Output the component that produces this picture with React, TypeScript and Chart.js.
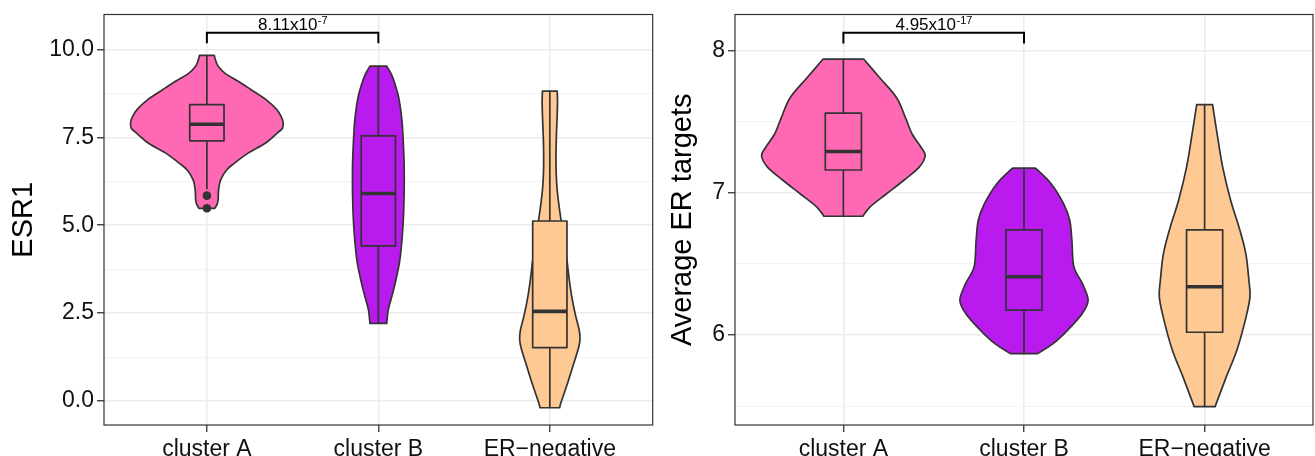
import React, { useEffect, useRef } from 'react';
import { Chart, registerables } from 'chart.js';

Chart.register(...registerables);

// ---------- shared ----------
const categories = ['cluster A', 'cluster B', 'ER\u2212negative'];
const categoryPositions = [1, 2, 3];
const fillColors = ['#FF69B4', '#B91AEE', '#FFC994'];

// ---------- panel 1: ESR1 ----------
const esr1Title = 'ESR1';
const esr1YRange = [-0.68, 10.99];
const esr1YTicks = [0, 2.5, 5, 7.5, 10];
const esr1YTickLabels = ['0.0', '2.5', '5.0', '7.5', '10.0'];
const esr1YMinorTicks = [1.25, 3.75, 6.25, 8.75];

// violin outlines: y values (top to bottom) and half-widths (category units)
const esr1ViolinA_y = [9.83, 9.7, 9.52, 9.3, 9.1, 8.86, 8.57, 8.3, 8.1, 7.92, 7.75, 7.62, 7.33, 7.05, 6.76, 6.57, 6.29, 6.0, 5.75, 5.6, 5.48];
const esr1ViolinA_w = [0.043, 0.05, 0.066, 0.11, 0.18, 0.256, 0.345, 0.405, 0.432, 0.445, 0.44, 0.41, 0.34, 0.24, 0.16, 0.115, 0.08, 0.068, 0.066, 0.06, 0.046];
const esr1ViolinB_y = [9.52, 9.3, 9.0, 8.6, 8.0, 7.4, 6.8, 6.3, 5.8, 5.2, 4.6, 4.0, 3.5, 3.0, 2.6, 2.21];
const esr1ViolinB_w = [0.049, 0.075, 0.098, 0.12, 0.137, 0.145, 0.15, 0.151, 0.15, 0.146, 0.138, 0.125, 0.105, 0.08, 0.058, 0.049];
const esr1ViolinC_y = [8.81, 8.5, 8.0, 7.5, 7.0, 6.5, 6.0, 5.5, 5.0, 4.5, 4.0, 3.5, 3.0, 2.5, 2.0, 1.75, 1.5, 1.0, 0.5, 0.0, -0.19];
const esr1ViolinC_w = [0.043, 0.045, 0.042, 0.038, 0.036, 0.037, 0.043, 0.055, 0.07, 0.085, 0.1, 0.112, 0.127, 0.147, 0.172, 0.176, 0.167, 0.135, 0.103, 0.068, 0.057];

// boxes: [lower whisker, q1, median, q3, upper whisker]
const esr1BoxA = [6.02, 7.4, 7.87, 8.43, 9.83];
const esr1BoxB = [2.21, 4.41, 5.9, 7.54, 9.52];
const esr1BoxC = [-0.19, 1.52, 2.55, 5.12, 8.81];
const esr1OutliersA = [5.84, 5.48];

// significance bracket: [x1, x2, y, tipY]
const esr1Bracket = [1, 2, 10.47, 10.17];
const esr1PValue = ['8.11x10', '-7'];

// ---------- panel 2: Average ER targets ----------
const erTitle = 'Average ER targets';
const erYRange = [5.368, 8.253];
const erYTicks = [6, 7, 8];
const erYTickLabels = ['6', '7', '8'];
const erYMinorTicks = [5.5, 6.5, 7.5];

const erViolinA_y = [7.94, 7.81, 7.67, 7.53, 7.415, 7.32, 7.26, 7.18, 7.09, 6.99, 6.9, 6.835];
const erViolinA_w = [0.112, 0.2, 0.294, 0.343, 0.38, 0.43, 0.453, 0.42, 0.337, 0.236, 0.147, 0.108];
const erViolinB_y = [7.174, 7.064, 6.924, 6.807, 6.667, 6.48, 6.363, 6.246, 6.152, 6.035, 5.94, 5.87];
const erViolinB_w = [0.063, 0.15, 0.219, 0.253, 0.265, 0.276, 0.323, 0.355, 0.323, 0.242, 0.161, 0.075];
const erViolinC_y = [7.62, 7.415, 7.18, 6.947, 6.76, 6.573, 6.386, 6.27, 6.13, 5.895, 5.71, 5.497];
const erViolinC_w = [0.044, 0.069, 0.1, 0.144, 0.19, 0.228, 0.245, 0.251, 0.23, 0.179, 0.121, 0.058];

const erBoxA = [6.835, 7.16, 7.29, 7.56, 7.94];
const erBoxB = [5.87, 6.175, 6.41, 6.74, 7.174];
const erBoxC = [5.497, 6.02, 6.34, 6.74, 7.62];
const erOutliersA: number[] = [];

const erBracket = [1, 2, 8.124, 8.05];
const erPValue = ['4.95x10', '-17'];

// ---------- drawing helpers ----------
type Pt = { x: number; y: number };

function curveThrough(ctx: CanvasRenderingContext2D, pts: Pt[]) {
  for (let i = 0; i < pts.length - 1; i++) {
    const p0 = pts[i - 1] || pts[i];
    const p1 = pts[i];
    const p2 = pts[i + 1];
    const p3 = pts[i + 2] || pts[i + 1];
    ctx.bezierCurveTo(
      p1.x + (p2.x - p0.x) / 6, p1.y + (p2.y - p0.y) / 6,
      p2.x - (p3.x - p1.x) / 6, p2.y - (p3.y - p1.y) / 6,
      p2.x, p2.y
    );
  }
}

function makePanelPlugin(panel: any) {
  return {
    id: 'violinPanel',
    beforeDatasetsDraw(chart: any) {
      const ctx: CanvasRenderingContext2D = chart.ctx;
      const xs = chart.scales.x;
      const ys = chart.scales.y;
      ctx.save();
      panel.violins.forEach((v: any, i: number) => {
        const cx = categoryPositions[i];
        const right: Pt[] = v.y.map((y: number, k: number) => ({ x: xs.getPixelForValue(cx + v.w[k]), y: ys.getPixelForValue(y) }));
        const left: Pt[] = v.y.map((y: number, k: number) => ({ x: xs.getPixelForValue(cx - v.w[k]), y: ys.getPixelForValue(y) })).reverse();
        ctx.beginPath();
        ctx.moveTo(right[0].x, right[0].y);
        curveThrough(ctx, right);
        ctx.lineTo(left[0].x, left[0].y);
        curveThrough(ctx, left);
        ctx.closePath();
        ctx.fillStyle = fillColors[i];
        ctx.fill();
        ctx.lineWidth = 1.7;
        ctx.strokeStyle = '#333333';
        ctx.lineJoin = 'round';
        ctx.stroke();

        // box plot
        const b = panel.boxes[i];
        const xc = xs.getPixelForValue(cx);
        const xl = xs.getPixelForValue(cx - 0.1);
        const xr = xs.getPixelForValue(cx + 0.1);
        const yLow = ys.getPixelForValue(b[0]);
        const yQ1 = ys.getPixelForValue(b[1]);
        const yMed = ys.getPixelForValue(b[2]);
        const yQ3 = ys.getPixelForValue(b[3]);
        const yHigh = ys.getPixelForValue(b[4]);
        ctx.lineWidth = 1.7;
        ctx.beginPath();
        ctx.moveTo(xc, yQ3); ctx.lineTo(xc, yHigh);
        ctx.moveTo(xc, yQ1); ctx.lineTo(xc, yLow);
        ctx.stroke();
        ctx.fillStyle = fillColors[i];
        ctx.fillRect(xl, yQ3, xr - xl, yQ1 - yQ3);
        ctx.strokeRect(xl, yQ3, xr - xl, yQ1 - yQ3);
        ctx.lineWidth = 3.6;
        ctx.lineCap = 'butt';
        ctx.beginPath();
        ctx.moveTo(xl, yMed); ctx.lineTo(xr, yMed);
        ctx.stroke();
      });

      // significance bracket
      const br = panel.bracket;
      const bx1 = xs.getPixelForValue(br[0]);
      const bx2 = xs.getPixelForValue(br[1]);
      const by = ys.getPixelForValue(br[2]);
      const bt = ys.getPixelForValue(br[3]);
      ctx.strokeStyle = '#000';
      ctx.lineWidth = 2;
      ctx.lineJoin = 'miter';
      ctx.beginPath();
      ctx.moveTo(bx1, bt); ctx.lineTo(bx1, by); ctx.lineTo(bx2, by); ctx.lineTo(bx2, bt);
      ctx.stroke();
      const mainFont = '17px "Liberation Sans", Arial, sans-serif';
      const supFont = '11px "Liberation Sans", Arial, sans-serif';
      ctx.font = mainFont;
      const w1 = ctx.measureText(panel.pValue[0]).width;
      ctx.font = supFont;
      const w2 = ctx.measureText(panel.pValue[1]).width;
      const startX = (bx1 + bx2) / 2 - (w1 + w2) / 2;
      ctx.fillStyle = '#000';
      ctx.textBaseline = 'alphabetic';
      ctx.textAlign = 'left';
      ctx.font = mainFont;
      ctx.fillText(panel.pValue[0], startX, by - 2.5);
      ctx.font = supFont;
      ctx.fillText(panel.pValue[1], startX + w1 + 0.5, by - 8.5);
      ctx.restore();
    },
    afterDraw(chart: any) {
      const ctx: CanvasRenderingContext2D = chart.ctx;
      const a = chart.chartArea;
      ctx.save();
      ctx.strokeStyle = '#333333';
      ctx.lineWidth = 1.2;
      ctx.strokeRect(a.left, a.top, a.right - a.left, a.bottom - a.top);
      ctx.restore();
    },
  };
}

function buildConfig(panel: any) {
  const allYTicks = [...panel.yTicks, ...panel.yMinor].sort((a: number, b: number) => a - b);
  const isMajorY = (v: number) => panel.yTicks.some((t: number) => Math.abs(t - v) < 1e-9);
  return {
    type: 'scatter' as const,
    data: {
      datasets: [
        {
          data: panel.outliers.map((y: number) => ({ x: 1, y })),
          pointRadius: 4.3,
          pointBackgroundColor: '#333333',
          pointBorderWidth: 0,
          showLine: false,
        },
      ],
    },
    options: {
      responsive: false,
      animation: false,
      devicePixelRatio: 1,
      layout: { padding: { top: 14, right: panel.padRight, left: 0, bottom: 0 } },
      plugins: { legend: { display: false }, tooltip: { enabled: false } },
      scales: {
        x: {
          type: 'linear',
          min: 0.4,
          max: 3.6,
          afterBuildTicks: (s: any) => { s.ticks = categoryPositions.map((v) => ({ value: v })); },
          afterFit: (s: any) => { s.height = 31; },
          ticks: {
            autoSkip: false,
            maxRotation: 0,
            padding: 3.5,
            color: '#111',
            font: { size: 23 },
            callback: (v: number) => categories[Math.round(v) - 1],
          },
          grid: { color: '#EBEBEB', lineWidth: 1.5, tickColor: '#333333', tickLength: 7, tickWidth: 1.3 },
          border: { display: false },
        },
        y: {
          type: 'linear',
          min: panel.yRange[0],
          max: panel.yRange[1],
          afterBuildTicks: (s: any) => { s.ticks = allYTicks.map((v: number) => ({ value: v })); },
          afterFit: (s: any) => { s.width = panel.yWidth; },
          ticks: {
            autoSkip: false,
            padding: 3,
            color: '#111',
            font: { size: 23, lineHeight: 1 },
            callback: (v: number) => {
              const idx = panel.yTicks.findIndex((t: number) => Math.abs(t - v) < 1e-9);
              return idx >= 0 ? panel.yTickLabels[idx] : '';
            },
          },
          grid: {
            color: (c: any) => (isMajorY(c.tick.value) ? '#EBEBEB' : '#F3F3F3'),
            lineWidth: (c: any) => (isMajorY(c.tick.value) ? 1.5 : 1.1),
            tickColor: (c: any) => (isMajorY(c.tick.value) ? '#333333' : 'rgba(0,0,0,0)'),
            tickLength: 7,
            tickWidth: 1.3,
          },
          border: { display: false },
          title: {
            display: true,
            text: panel.title,
            color: '#000',
            font: { size: 29 },
            padding: { top: panel.titlePad, bottom: 0 },
          },
        },
      },
    },
    plugins: [makePanelPlugin(panel)],
  };
}

const esr1Panel = {
  title: esr1Title,
  yRange: esr1YRange,
  yTicks: esr1YTicks,
  yTickLabels: esr1YTickLabels,
  yMinor: esr1YMinorTicks,
  violins: [
    { y: esr1ViolinA_y, w: esr1ViolinA_w },
    { y: esr1ViolinB_y, w: esr1ViolinB_w },
    { y: esr1ViolinC_y, w: esr1ViolinC_w },
  ],
  boxes: [esr1BoxA, esr1BoxB, esr1BoxC],
  outliers: esr1OutliersA,
  bracket: esr1Bracket,
  pValue: esr1PValue,
  yWidth: 104,
  padRight: 4,
  titlePad: 7,
};

const erPanel = {
  title: erTitle,
  yRange: erYRange,
  yTicks: erYTicks,
  yTickLabels: erYTickLabels,
  yMinor: erYMinorTicks,
  violins: [
    { y: erViolinA_y, w: erViolinA_w },
    { y: erViolinB_y, w: erViolinB_w },
    { y: erViolinC_y, w: erViolinC_w },
  ],
  boxes: [erBoxA, erBoxB, erBoxC],
  outliers: erOutliersA,
  bracket: erBracket,
  pValue: erPValue,
  yWidth: 78,
  padRight: 2,
  titlePad: 8.5,
};

function Panel({ panel, left, width }: { panel: any; left: number; width: number }) {
  const ref = useRef<HTMLCanvasElement>(null);
  useEffect(() => {
    if (!ref.current) return;
    const chart = new Chart(ref.current, buildConfig(panel) as any);
    return () => chart.destroy();
  }, [panel]);
  return (
    <canvas
      ref={ref}
      width={width}
      height={456}
      style={{ position: 'absolute', left, top: 0, width, height: 456, display: 'block' }}
    />
  );
}

Chart.defaults.font.family = '"Liberation Sans", Arial, sans-serif';

export default function App() {
  return (
    <div style={{ position: 'fixed', left: 0, top: 0, width: 1315, height: 456, background: '#fff', overflow: 'hidden' }}>
      <Panel panel={esr1Panel} left={0} width={657} />
      <Panel panel={erPanel} left={657} width={658} />
    </div>
  );
}
